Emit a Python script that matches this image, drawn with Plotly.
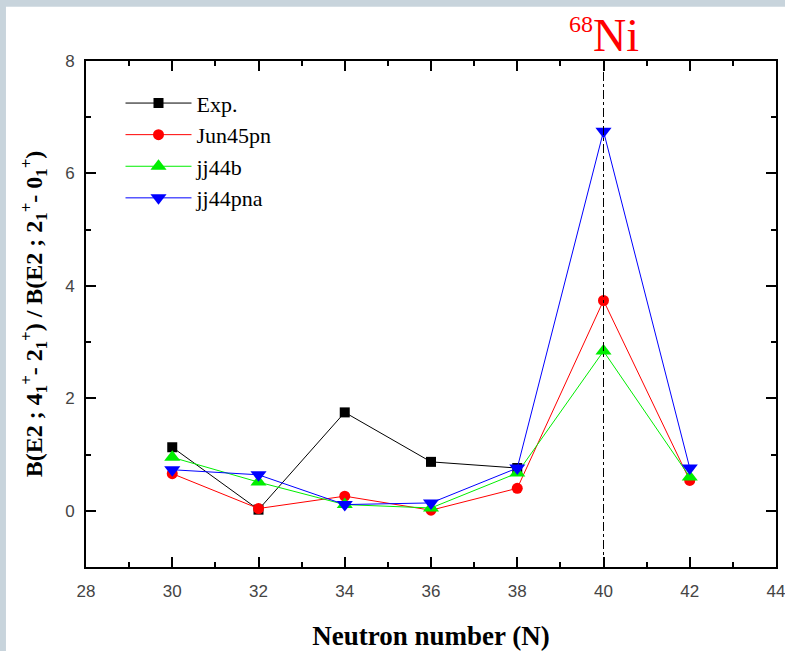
import plotly.graph_objects as go

neutrons = [30, 32, 34, 36, 38, 40, 42]
exp_n = [30, 32, 34, 36, 38]
exp_vals = [1.13, 0.02, 1.75, 0.87, 0.76]
jun45pn = [0.66, 0.04, 0.26, 0.01, 0.40, 3.74, 0.54]
jj44b = [0.95, 0.51, 0.11, 0.05, 0.67, 2.84, 0.60]
jj44pna = [0.73, 0.64, 0.11, 0.14, 0.76, 6.75, 0.76]

x_ticks = [28, 30, 32, 34, 36, 38, 40, 42, 44]
y_ticks = [0, 2, 4, 6, 8]
ni_line_x = 40

serif = "Liberation Serif, Times New Roman, serif"
sans = "Liberation Sans, Arial, sans-serif"

fig = go.Figure()
fig.add_trace(go.Scatter(x=exp_n, y=exp_vals, name="Exp.", mode="lines+markers",
                         line=dict(color="black", width=1),
                         marker=dict(symbol="square", size=10, color="black")))
fig.add_trace(go.Scatter(x=neutrons, y=jun45pn, name="Jun45pn", mode="lines+markers",
                         line=dict(color="#ff0000", width=1),
                         marker=dict(symbol="circle", size=11, color="#ff0000")))
fig.add_trace(go.Scatter(x=neutrons, y=jj44b, name="jj44b", mode="lines+markers",
                         line=dict(color="#00ee00", width=1),
                         marker=dict(symbol="triangle-up", size=14, color="#00ee00")))
fig.add_trace(go.Scatter(x=neutrons, y=jj44pna, name="jj44pna", mode="lines+markers",
                         line=dict(color="#0000ff", width=1),
                         marker=dict(symbol="triangle-down", size=14, color="#0000ff")))

# background: gray-blue frame (top/left) with white page
fig.add_shape(type="rect", xref="paper", yref="paper", x0=-0.116, x1=1.05, y0=-0.2, y1=1.107,
              fillcolor="white", line=dict(width=0), layer="below")

fig.add_shape(type="line", xref="x", yref="y", x0=ni_line_x, x1=ni_line_x, y0=-1, y1=8,
              line=dict(color="black", width=1, dash="dashdot"))

fig.add_annotation(x=ni_line_x, xref="x", y=1.0, yref="paper", yanchor="bottom", yshift=-2,
                   text="<sup><span style='font-size:24px'>68</span></sup>Ni", showarrow=False,
                   font=dict(family=serif, size=46, color="#ff0000"))

axis_common = dict(showgrid=False, zeroline=False, showline=True, linecolor="black", linewidth=2,
                   mirror="ticks", ticks="inside", ticklen=10, tickwidth=2, tickcolor="black",
                   automargin=False, ticklabeloverflow="allow",
                   tickfont=dict(family=sans, size=17, color="#444444"))

fig.update_xaxes(range=[28, 44], tickvals=x_ticks, ticklabelstandoff=8,
                 minor=dict(dtick=1, ticks="inside", ticklen=5, tickwidth=2, tickcolor="black"),
                 title=dict(text="<b>Neutron number (N)</b>", font=dict(family=serif, size=27, color="black"),
                            standoff=30),
                 **axis_common)
fig.update_yaxes(range=[-1, 8], tickvals=y_ticks, ticklabelstandoff=6,
                 minor=dict(dtick=1, ticks="inside", ticklen=5, tickwidth=2, tickcolor="black"),
                 title=dict(text="<b>B(E2 ; 4<sub>1</sub><sup>+</sup>- 2<sub>1</sub><sup>+</sup>) / B(E2 ; 2<sub>1</sub><sup>+</sup>- 0<sub>1</sub><sup>+</sup>)</b>",
                            font=dict(family=serif, size=24, color="black"), standoff=16),
                 **axis_common)

fig.update_layout(
    width=785, height=651,
    margin=dict(l=86, r=9, t=61, b=84),
    paper_bgcolor="#c8d4dc", plot_bgcolor="white",
    showlegend=True,
    legend=dict(x=0.05, y=0.958, xanchor="left", yanchor="top", bgcolor="rgba(0,0,0,0)",
                font=dict(family=serif, size=22, color="black"), itemwidth=66,
                tracegroupgap=0),
)

fig.write_html("out.html", config={"displayModeBar": False},
               post_script="document.body.style.margin='0';document.body.style.overflow='hidden';")
